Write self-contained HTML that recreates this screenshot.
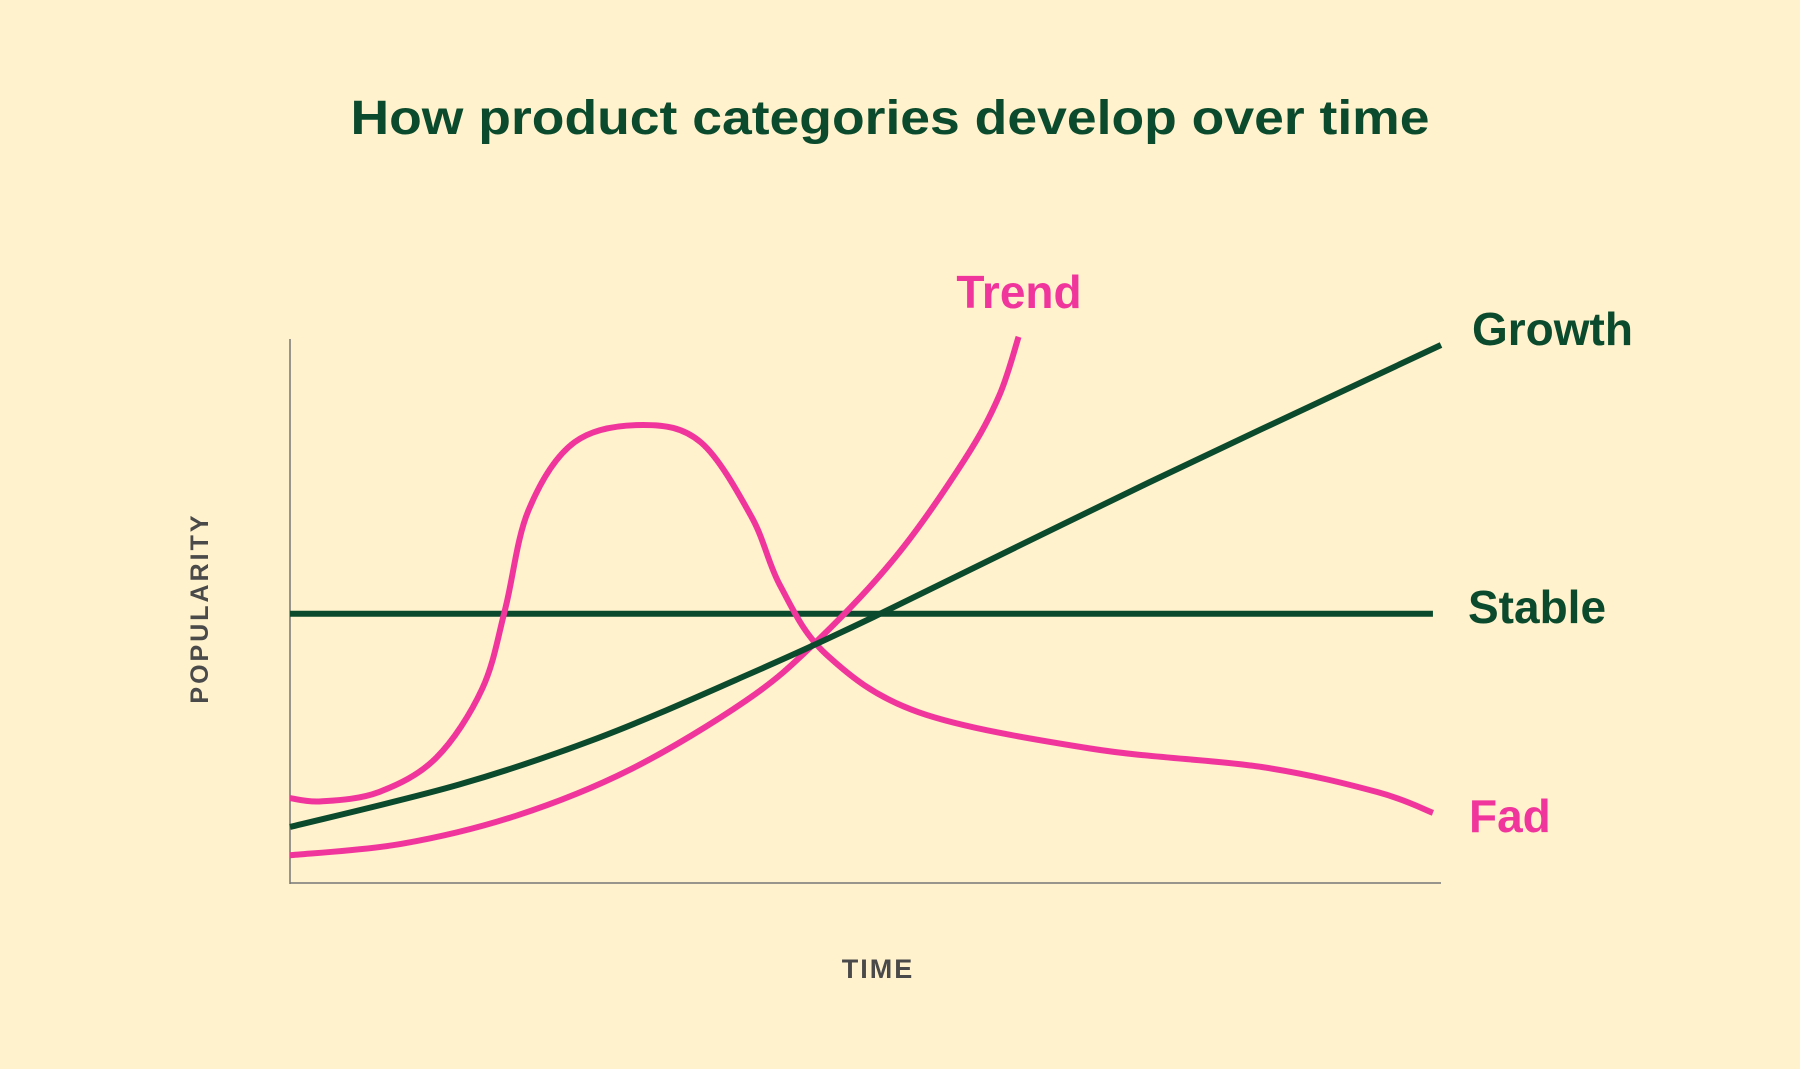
<!DOCTYPE html>
<html><head><meta charset="utf-8"><style>
html,body{margin:0;padding:0;background:#FFF2CC;}
svg{display:block;font-family:"Liberation Sans",sans-serif;}
</style></head><body>
<svg id="chart" width="1800" height="1069" viewBox="0 0 1800 1069">
<rect width="1800" height="1069" fill="#FFF2CC"/>
<text x="890" y="134" text-anchor="middle" font-size="48" font-weight="bold" fill="#0B4A2C" textLength="1079" lengthAdjust="spacingAndGlyphs">How product categories develop over time</text>
<line x1="290" y1="339" x2="290" y2="884" stroke="#777" stroke-width="1.5"/>
<line x1="290" y1="883" x2="1441" y2="883" stroke="#777" stroke-width="1.5"/>
<text transform="translate(208,608) rotate(-90)" text-anchor="middle" font-size="25" font-weight="bold" fill="#4a4a4a" letter-spacing="3">POPULARITY</text>
<text x="878" y="978" text-anchor="middle" font-size="27" font-weight="bold" fill="#4a4a4a" letter-spacing="2">TIME</text>
<g id="series"></g>
<text x="1019" y="308" text-anchor="middle" font-size="46" font-weight="bold" fill="#F0359C">Trend</text>
<text x="1472" y="345" font-size="46" font-weight="bold" fill="#0B4A2C">Growth</text>
<text x="1468" y="623" font-size="46" font-weight="bold" fill="#0B4A2C">Stable</text>
<text x="1469" y="832" font-size="46" font-weight="bold" fill="#F0359C">Fad</text>
</svg>
<script>
const stableX = [0, 99.3];
const stableY = [49.5, 49.5];
const growthX = [0, 14.7, 26.7, 38.7, 50.7, 74.6, 100];
const growthY = [10.3, 18.1, 26.6, 37.3, 48.9, 73.6, 98.9];
const fadX = [0, 2.7, 7.7, 12.7, 16.7, 18.7, 20.7, 24.7, 30.7, 35.7, 40.1, 42.6, 46.6, 54.6, 69.6, 84.5, 94.5, 99.3];
const fadY = [15.6, 15.0, 16.7, 23.0, 35.7, 50.4, 68.4, 81.0, 84.2, 81.0, 67.3, 54.6, 42.0, 31.4, 24.7, 21.3, 16.7, 12.9];
const trendX = [0, 9.7, 19.7, 29.6, 39.6, 45.6, 52.6, 58.6, 61.6, 63.3];
const trendY = [5.1, 7.2, 12.4, 20.9, 33.5, 44.1, 59.9, 77.8, 89.5, 100.4];

function sx(v){ return 290 + v/100*(1441-290); }
function sy(v){ return 883 - v/100*(883-339); }
function pathFor(xs, ys){
  const p = xs.map((x,i)=>[sx(x), sy(ys[i])]);
  let d = 'M'+p[0][0]+','+p[0][1];
  for(let i=0;i<p.length-1;i++){
    const p0=p[Math.max(0,i-1)], p1=p[i], p2=p[i+1], p3=p[Math.min(p.length-1,i+2)];
    const c1=[p1[0]+(p2[0]-p0[0])/6, p1[1]+(p2[1]-p0[1])/6];
    const c2=[p2[0]-(p3[0]-p1[0])/6, p2[1]-(p3[1]-p1[1])/6];
    d+=' C'+c1[0]+','+c1[1]+' '+c2[0]+','+c2[1]+' '+p2[0]+','+p2[1];
  }
  return d;
}
const g = document.getElementById('series');
function add(xs, ys, color, name){
  const el = document.createElementNS('http://www.w3.org/2000/svg','path');
  el.setAttribute('d', pathFor(xs, ys));
  el.setAttribute('fill','none');
  el.setAttribute('stroke', color);
  el.setAttribute('stroke-width','6');
  
  
  g.appendChild(el);
}
add(stableX, stableY, '#0B4A2C', 'stable-line');
add(fadX, fadY, '#F0359C', 'fad-line');
add(trendX, trendY, '#F0359C', 'trend-line');
add(growthX, growthY, '#0B4A2C', 'growth-line');
</script>
</body></html>
